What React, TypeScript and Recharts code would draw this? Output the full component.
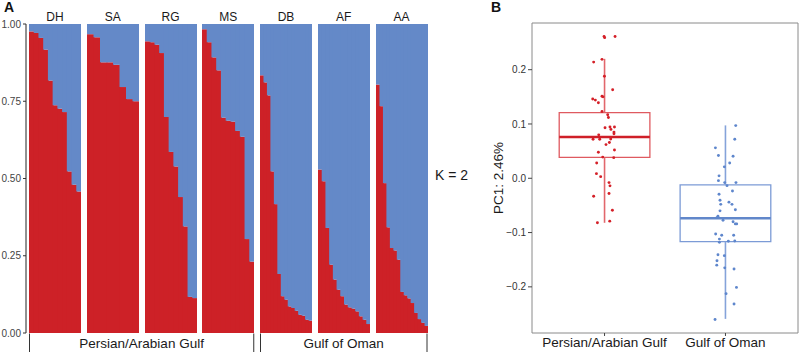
import React from 'react';
import {
  BarChart,
  Bar,
  XAxis,
  YAxis,
  ComposedChart,
  Scatter,
  ReferenceArea,
  ReferenceLine,
} from 'recharts';

// ---------- Panel A data: ancestry proportion (cluster 1, red) per individual ----------
const populations = ['DH', 'SA', 'RG', 'MS', 'DB', 'AF', 'AA'];
const dhAncestry = [0.976, 0.971, 0.955, 0.917, 0.817, 0.737, 0.726, 0.715, 0.523, 0.48, 0.458];
const saAncestry = [0.967, 0.957, 0.876, 0.876, 0.868, 0.796, 0.757, 0.75];
const rgAncestry = [0.944, 0.941, 0.933, 0.906, 0.699, 0.586, 0.539, 0.44, 0.345, 0.117, 0.113];
const msAncestry = [0.983, 0.941, 0.892, 0.85, 0.697, 0.687, 0.684, 0.654, 0.635, 0.304, 0.231];
const dbAncestry = [0.834, 0.811, 0.769, 0.523, 0.417, 0.191, 0.119, 0.108, 0.086, 0.081, 0.072, 0.059, 0.056, 0.043, 0.04];
const afAncestry = [0.529, 0.491, 0.34, 0.221, 0.173, 0.14, 0.119, 0.092, 0.083, 0.079, 0.07, 0.054, 0.043, 0.029];
const aaAncestry = [0.804, 0.734, 0.485, 0.342, 0.275, 0.267, 0.237, 0.133, 0.122, 0.112, 0.097, 0.065, 0.045, 0.033, 0.023];
const ancestryByPop = [dhAncestry, saAncestry, rgAncestry, msAncestry, dbAncestry, afAncestry, aaAncestry];
const admixTicks = [0, 0.25, 0.5, 0.75, 1];
const kLabel = 'K = 2';

// ---------- Panel B data ----------
const regions = ['Persian/Arabian Gulf', 'Gulf of Oman'];
const pcTicks = [-0.2, -0.1, 0, 0.1, 0.2];
const boxQ1 = [0.0385, -0.1167];
const boxMedian = [0.076, -0.0737];
const boxQ3 = [0.121, -0.0123];
const whiskerLow = [-0.082, -0.259];
const whiskerHigh = [0.22, 0.0974];

const gulfX = [0.996, 1.001, 1.087, 0.979, 0.91, 0.999, 1.067, 0.979, 0.987, 0.902, 0.924, 0.949, 0.979, 1.026, 1.032, 1.045, 1.004, 1.082, 1.053, 1.078, 1.078, 0.952, 0.905, 0.96, 1.051, 1.04, 1.012, 1.082, 0.949, 0.985, 1.076, 0.935, 0.933, 0.968, 1.037, 1.045, 0.91, 1.037, 1.065, 0.941, 1.043];
const gulfPC1 = [0.261, 0.259, 0.261, 0.219, 0.214, 0.188, 0.163, 0.151, 0.15, 0.146, 0.144, 0.139, 0.123, 0.117, 0.112, 0.0945, 0.093, 0.0945, 0.09, 0.085, 0.082, 0.08, 0.072, 0.072, 0.0724, 0.066, 0.062, 0.052, 0.048, 0.039, 0.038, 0.028, 0.0085, 0.003, -0.008, -0.014, -0.033, -0.028, -0.059, -0.082, -0.079];
const omanX = [2.085, 2.077, 1.917, 1.942, 2.063, 2.035, 1.991, 1.947, 1.942, 1.994, 2.013, 2.087, 2.058, 1.947, 1.955, 1.961, 2.029, 2.054, 2.082, 1.955, 1.938, 1.93, 1.98, 2.063, 2.082, 2.093, 1.919, 1.969, 2.068, 1.95, 1.95, 2.024, 2.077, 1.938, 1.991, 1.93, 1.928, 1.994, 2.071, 2.091, 2.005, 2.071, 1.914];
const omanPC1 = [0.097, 0.072, 0.056, 0.042, 0.0405, 0.028, 0.021, 0.0045, -0.0044, -0.008, -0.0136, -0.008, -0.0234, -0.0295, -0.0405, -0.048, -0.044, -0.048, -0.058, -0.06, -0.07, -0.0725, -0.0774, -0.08, -0.084, -0.084, -0.1026, -0.105, -0.105, -0.112, -0.118, -0.116, -0.1155, -0.141, -0.1425, -0.152, -0.16, -0.165, -0.167, -0.201, -0.2125, -0.2315, -0.26];

// ---------- styles ----------
const FONT = '"Liberation Sans", Arial, Helvetica, sans-serif';
const RED = '#CD2127';
const BLUE = '#6489C8';
const PANEL_W = 52;
const PANEL_STEP = 57.75;
const PANEL_X0 = 29;

const groupColors = [
  { point: '#D41F27', box: '#DF5A60', median: '#CF1F28', whisker: '#E2676C' },
  { point: '#5E86CC', box: '#7C9BD6', median: '#6187CA', whisker: '#85A3DA' },
];

function AdmixturePanel({ values, index }: { values: number[]; index: number }) {
  const showAxis = index === 0;
  const n = values.length;
  const data = values.map((v, i) => ({ id: i, k1: v, k2: 1 - v }));
  const axisW = showAxis ? 26 : 0;
  const pad = showAxis ? 3 : 0;
  const width = axisW + pad + PANEL_W;
  const left = showAxis ? 0 : PANEL_X0 + index * PANEL_STEP;
  const bw = PANEL_W / n;
  const panelEnd = axisW + pad + PANEL_W;
  const shape = (p: any) => (
    <rect
      x={p.x}
      y={p.y}
      width={Math.max(0, Math.min(bw + 1, panelEnd - p.x))}
      height={Math.max(0, p.height)}
      fill={p.fill}
    />
  );
  return (
    <div style={{ position: 'absolute', left, top: 14 }}>
      <BarChart
        width={width}
        height={329}
        data={data}
        margin={{ top: 10, right: 0, bottom: 10, left: 0 }}
        barCategoryGap={0}
        barGap={0}
      >
        <XAxis dataKey="id" hide padding={{ left: pad, right: 0 }} />
        <YAxis
          hide={!showAxis}
          width={26}
          domain={[0, 1]}
          ticks={admixTicks}
          tickFormatter={(v: number) => v.toFixed(2)}
          tickSize={3}
          tickMargin={2}
          axisLine={{ stroke: '#222', strokeWidth: 1 }}
          tickLine={{ stroke: '#333' }}
          tick={{ fontSize: 10, fill: '#444', fontFamily: FONT }}
          interval={0}
        />
        <Bar dataKey="k1" stackId="a" fill={RED} isAnimationActive={false} shape={shape} />
        <Bar dataKey="k2" stackId="a" fill={BLUE} isAnimationActive={false} shape={shape} />
      </BarChart>
    </div>
  );
}

const fmtPC = (v: number) => {
  if (Math.abs(v) < 1e-9) return '0.0';
  return v < 0 ? '\u2212' + Math.abs(v).toFixed(1) : v.toFixed(1);
};

function PCPanel() {
  const gulfPoints = gulfX.map((x, i) => ({ x, y: gulfPC1[i] }));
  const omanPoints = omanX.map((x, i) => ({ x, y: omanPC1[i] }));
  const pointSets = [gulfPoints, omanPoints];
  const half = 0.375;
  return (
    <div style={{ position: 'absolute', left: 470, top: 0 }}>
      <ComposedChart width={329} height={352} margin={{ top: 23, right: 1, bottom: 0, left: 0 }}>
        <XAxis
          type="number"
          dataKey="x"
          domain={[0.4, 2.6]}
          ticks={[1, 2]}
          tickFormatter={(v: number) => regions[Math.round(v) - 1]}
          allowDataOverflow
          axisLine={false}
          tickSize={3}
          tickMargin={1}
          height={19}
          interval={0}
          tickLine={{ stroke: '#444' }}
          tick={{ fontSize: 13.5, fill: '#1a1a1a', fontFamily: FONT }}
        />
        <YAxis
          type="number"
          dataKey="y"
          domain={[-0.285, 0.286]}
          ticks={pcTicks}
          tickFormatter={fmtPC}
          allowDataOverflow
          axisLine={false}
          width={62}
          tickSize={4}
          tickMargin={2}
          interval={0}
          tickLine={{ stroke: '#444' }}
          tick={{ fontSize: 10, fill: '#333', fontFamily: FONT }}
        />
        <ReferenceArea x1={0.4} x2={2.6} y1={-0.285} y2={0.286} fill="none" stroke="#8a8a8a" strokeWidth={1} fillOpacity={0} />
        {regions.map((r, i) => {
          const c = i + 1;
          const col = groupColors[i];
          return (
            <React.Fragment key={r}>
              <ReferenceLine segment={[{ x: c, y: boxQ3[i] }, { x: c, y: whiskerHigh[i] }]} stroke={col.whisker} strokeWidth={1.6} />
              <ReferenceLine segment={[{ x: c, y: whiskerLow[i] }, { x: c, y: boxQ1[i] }]} stroke={col.whisker} strokeWidth={1.6} />
              <ReferenceArea x1={c - half} x2={c + half} y1={boxQ1[i]} y2={boxQ3[i]} fill="none" fillOpacity={0} stroke={col.box} strokeWidth={1.3} />
              <ReferenceLine segment={[{ x: c - half, y: boxMedian[i] }, { x: c + half, y: boxMedian[i] }]} stroke={col.median} strokeWidth={2.4} />
            </React.Fragment>
          );
        })}
        {pointSets.map((pts, i) => (
          <Scatter
            key={regions[i]}
            data={pts}
            fill={groupColors[i].point}
            isAnimationActive={false}
            shape={(p: any) => <circle cx={p.cx} cy={p.cy} r={1.45} fill={groupColors[i].point} />}
          />
        ))}
      </ComposedChart>
    </div>
  );
}

export default function App() {
  const gulfStart = PANEL_X0;
  const gulfEnd = PANEL_X0 + 3 * PANEL_STEP + PANEL_W;
  const omanStart = PANEL_X0 + 4 * PANEL_STEP;
  const omanEnd = PANEL_X0 + 6 * PANEL_STEP + PANEL_W;
  return (
    <div
      style={{
        position: 'absolute',
        left: 0,
        top: 0,
        width: 799,
        height: 352,
        overflow: 'hidden',
        background: '#fff',
        fontFamily: FONT,
      }}
    >
      {ancestryByPop.map((vals, i) => (
        <AdmixturePanel key={populations[i]} values={vals} index={i} />
      ))}
      <PCPanel />
      <svg width={799} height={352} style={{ position: 'absolute', left: 0, top: 0, pointerEvents: 'none' }}>
        <text x={4} y={12} fontSize={14} fontWeight="bold" fill="#111" fontFamily={FONT}>A</text>
        <text x={491} y={12} fontSize={14} fontWeight="bold" fill="#111" fontFamily={FONT}>B</text>
        {populations.map((p, i) => (
          <text
            key={p}
            x={PANEL_X0 + i * PANEL_STEP + PANEL_W / 2}
            y={21}
            fontSize={12}
            textAnchor="middle"
            fill="#1a1a1a"
            fontFamily={FONT}
          >
            {p}
          </text>
        ))}
        <text x={435} y={180} fontSize={14} fill="#1a1a1a" fontFamily={FONT}>{kLabel}</text>
        {[
          [gulfStart, gulfEnd, regions[0]],
          [omanStart, omanEnd, regions[1]],
        ].map(([s, e, label]) => (
          <g key={label as string}>
            <line x1={(s as number) + 0.5} y1={333.5} x2={(s as number) + 0.5} y2={352} stroke="#333" strokeWidth={1} />
            <line x1={(e as number) - 0.5} y1={333.5} x2={(e as number) - 0.5} y2={352} stroke="#333" strokeWidth={1} />
            <text
              x={((s as number) + (e as number)) / 2}
              y={347.5}
              fontSize={13.5}
              textAnchor="middle"
              fill="#1a1a1a"
              fontFamily={FONT}
            >
              {label}
            </text>
          </g>
        ))}
        <text
          x={0}
          y={0}
          transform="translate(503,178) rotate(-90)"
          fontSize={13.5}
          textAnchor="middle"
          fill="#1a1a1a"
          fontFamily={FONT}
        >
          PC1: 2.46%
        </text>
      </svg>
    </div>
  );
}
